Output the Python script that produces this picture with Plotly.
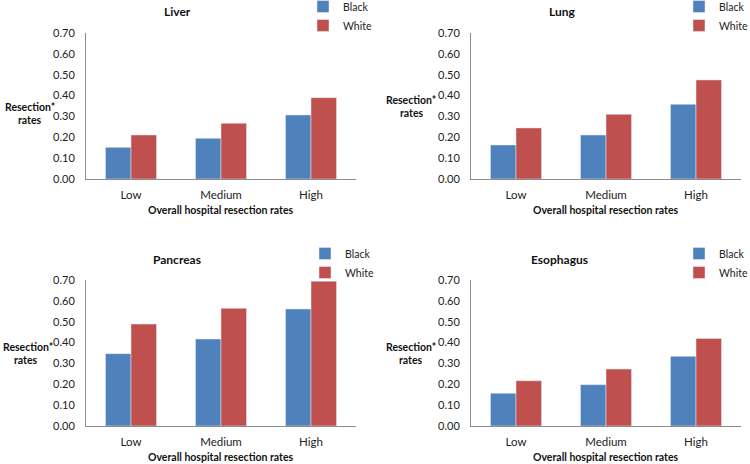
import plotly.graph_objects as go

categories = ["Low", "Medium", "High"]
panels = ["Liver", "Lung", "Pancreas", "Esophagus"]
black_rates = {
    "Liver": [0.152, 0.195, 0.307],
    "Lung": [0.163, 0.211, 0.358],
    "Pancreas": [0.347, 0.417, 0.561],
    "Esophagus": [0.157, 0.198, 0.334],
}
white_rates = {
    "Liver": [0.211, 0.267, 0.390],
    "Lung": [0.245, 0.310, 0.475],
    "Pancreas": [0.489, 0.564, 0.694],
    "Esophagus": [0.217, 0.273, 0.420],
}
y_ticks = [0.0, 0.1, 0.2, 0.3, 0.4, 0.5, 0.6, 0.7]
y_ticktext = ["%.2f" % v for v in y_ticks]

W, H = 750, 464
BLUE = "#4F81BD"
RED = "#C0504D"
FONT = "Lato"

# pixel layout per panel: (x0, x1, ytop, ybottom)
boxes = {
    "Liver": (86, 356, 33, 179),
    "Lung": (471, 741, 33, 179),
    "Pancreas": (86, 356, 280, 426),
    "Esophagus": (471, 741, 280, 426),
}
title_pos = {"Liver": (177, 12), "Lung": (562, 12), "Pancreas": (177, 259), "Esophagus": (559, 259)}
legend_pos = {"Liver": (303, -8), "Lung": (679, -8), "Pancreas": (305, 239), "Esophagus": (679, 239)}
ylab1_pos = {"Liver": (30, 107), "Lung": (411, 100), "Pancreas": (28, 347), "Esophagus": (411, 347)}
ylab2_pos = {"Liver": (30, 120), "Lung": (412, 113), "Pancreas": (26, 360), "Esophagus": (411, 360)}
xlab_pos = {"Liver": (220, 210), "Lung": (605, 210), "Pancreas": (220, 457), "Esophagus": (605, 457)}


def ann(text, xy, size, bold=True):
    x, y = xy
    return dict(text="<b>%s</b>" % text if bold else text, x=x / W, y=1 - y / H,
                xref="paper", yref="paper", xanchor="center", yanchor="middle",
                showarrow=False, font=dict(family=FONT, size=size, color="#111"))


fig = go.Figure()
annotations = []
layout = {}
for i, p in enumerate(panels):
    n = "" if i == 0 else str(i + 1)
    leg = "legend" if i == 0 else "legend" + str(i + 1)
    x0, x1, yt, yb = boxes[p]
    fig.add_trace(go.Bar(x=categories, y=black_rates[p], name="Black", marker_color=BLUE,
                         xaxis="x" + n, yaxis="y" + n, legend=leg))
    fig.add_trace(go.Bar(x=categories, y=white_rates[p], name="White", marker_color=RED,
                         xaxis="x" + n, yaxis="y" + n, legend=leg))
    layout["xaxis" + n] = dict(domain=[x0 / W, x1 / W], anchor="y" + n, showline=True,
                               linecolor="#8c8c8c", linewidth=1, ticks="", showgrid=False,
                               tickfont=dict(family=FONT, size=11.5, color="#222"),
                               ticklabelstandoff=5,
                               zeroline=False, fixedrange=True)
    layout["yaxis" + n] = dict(domain=[1 - yb / H, 1 - yt / H], anchor="x" + n, range=[0, 0.7],
                               tickvals=y_ticks, ticktext=y_ticktext, showline=True,
                               linecolor="#8c8c8c", linewidth=1, ticks="", showgrid=False,
                               zeroline=False, ticklabelstandoff=8,
                               tickfont=dict(family=FONT, size=11, color="#222"), fixedrange=True)
    lx, ly = legend_pos[p]
    layout[leg] = dict(x=lx / W, y=1 - ly / H,
                       xanchor="left", yanchor="top",
                       font=dict(family=FONT, size=10.5, color="#222"), bgcolor="rgba(0,0,0,0)",
                       itemwidth=30, tracegroupgap=0)
    annotations.append(ann(p, title_pos[p], 12))
    annotations.append(ann("Resection*", ylab1_pos[p], 10.5))
    annotations.append(ann("rates", ylab2_pos[p], 10.5))
    annotations.append(ann("Overall hospital resection rates", xlab_pos[p], 10.5))

fig.update_layout(width=W, height=H, margin=dict(l=0, r=0, t=0, b=0, autoexpand=False),
                  plot_bgcolor="white",
                  paper_bgcolor="white", barmode="group", bargap=0.433, bargroupgap=0,
                  annotations=annotations, **layout)
fig.write_html("out.html", config={"displayModeBar": False},
               post_script="document.body.style.margin='0px';")
